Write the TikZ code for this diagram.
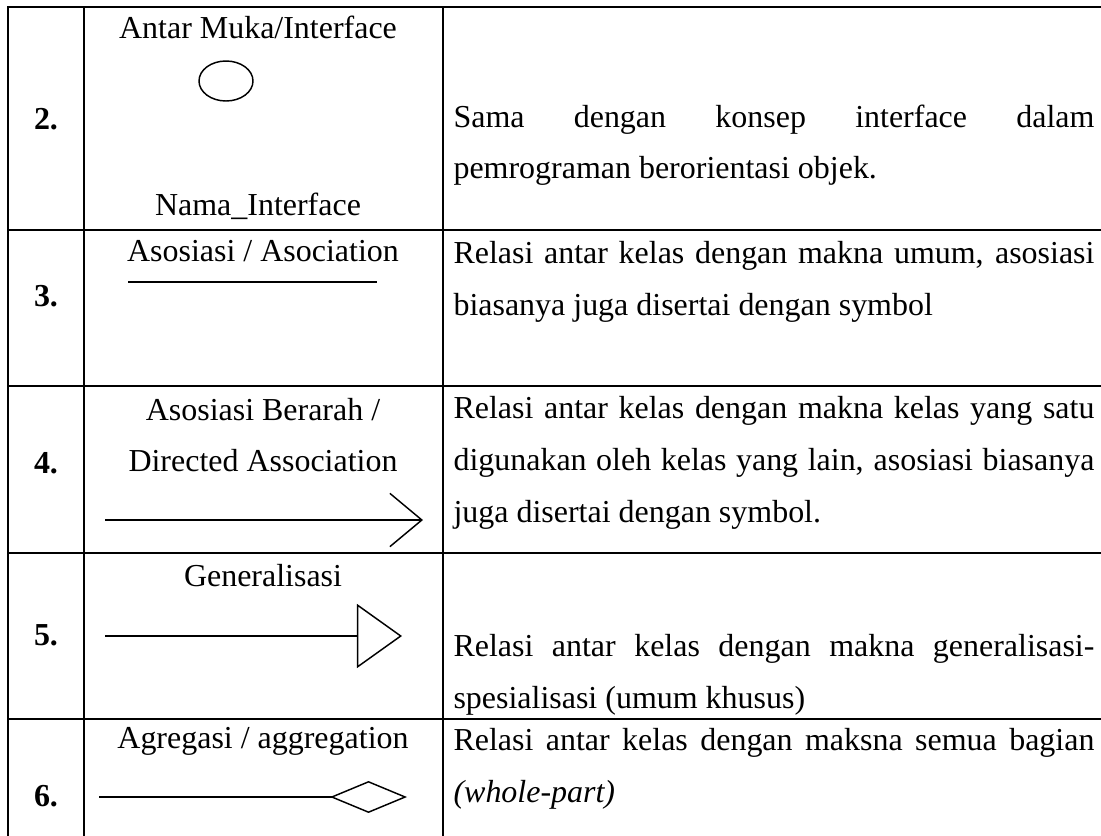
\documentclass[tikz,border=0pt]{standalone}
\usepackage{fontspec}
\setmainfont{Liberation Serif}
\usetikzlibrary{arrows.meta, positioning}

\begin{document}
\begin{tikzpicture}[x = 0.3754pt, y = -0.3754pt,
		cellText/.style = {font = \fontsize{12}{19.5}\selectfont, inner sep = 0pt, anchor = base},
		numText/.style = {font = \fontsize{12}{14}\selectfont\bfseries, inner sep = 0pt, anchor = base},
		descText/.style = {font = \fontsize{12}{19.5}\selectfont, inner sep = 0pt, anchor = north west, text width = 240.6pt, align = justify},
		gridLine/.style = {line width = 0.75pt},
		symbolLine/.style = {line width = 0.55pt}]

		% contant definitions
		\def\colMid{263}
		\def\colNum{46}
		\def\colDesc{453}

		\useasboundingbox (0, 0) rectangle (1101, 836);

		% table grid
		\begin{scope}
			\coordinate (TL) at (8, 7);
			\coordinate (TR) at (1102, 7);
			\draw[gridLine] (TR) -- (TL) -- (8, 837);
			\foreach \xcol in {84, 443} {
				\draw[gridLine] (\xcol, 7) -- (\xcol, 837);
			}
			\foreach \yrow in {230, 386, 553, 719} {
				\draw[gridLine] (8, \yrow) -- (1102, \yrow);
			}
		\end{scope}

		% row numbers
		\node[numText] (N2) at (\colNum, 129) {2.};
		\node[numText] (N3) at (\colNum, 306) {3.};
		\node[numText] (N4) at (\colNum, 473) {4.};
		\node[numText] (N5) at (\colNum, 645) {5.};
		\node[numText] (N6) at (\colNum, 806) {6.};

		% interface
		\node[cellText] (A2) at (258, 38) {Antar Muka/Interface};
		\draw[symbolLine] (226, 81) ellipse (27 and 20);
		\node[cellText] (B2) at (258, 215) {Nama\_Interface};

		% association
		\node[cellText] (A3) at (\colMid, 261) {Asosiasi / Asociation};
		\coordinate (L3a) at (128, 282);
		\coordinate (L3b) at (377, 282);
		\draw[symbolLine] (L3a) -- (L3b);

		% directed association
		\node[cellText] (A4) at (\colMid, 420) {Asosiasi Berarah /};
		\node[cellText] (B4) at (\colMid, 471) {Directed Association};
		\coordinate (L4a) at (105, 520);
		\coordinate (L4b) at (423, 520);
		\draw[symbolLine, -{Straight Barb[length = 12pt, width = 20pt]}] (L4a) -- (L4b);

		% generalisation
		\node[cellText] (A5) at (\colMid, 586) {Generalisasi};
		\coordinate (L5a) at (105, 636);
		\coordinate (L5b) at (402, 636);
		\draw[symbolLine, -{Triangle[open, length = 16.9pt, width = 24pt]}] (L5a) -- (L5b);

		% aggregation
		\node[cellText] (A6) at (\colMid, 748) {Agregasi / aggregation};
		\coordinate (L6a) at (99, 797);
		\coordinate (L6b) at (407, 797);
		\draw[symbolLine, -{Diamond[open, length = 28.9pt, width = 12pt]}] (L6a) -- (L6b);

		% descriptions
		\node[descText] (D2) at (\colDesc, 104) {Sama dengan konsep interface dalam\linebreak pemrograman berorientasi objek.};
		\node[descText] (D3) at (\colDesc, 241) {Relasi antar kelas dengan makna umum, asosiasi\linebreak biasanya juga disertai dengan symbol};
		\node[descText] (D4) at (\colDesc, 396) {Relasi antar kelas dengan makna kelas yang satu\linebreak digunakan oleh kelas yang lain, asosiasi biasanya\linebreak juga disertai dengan symbol.};
		\node[descText] (D5) at (\colDesc, 634) {Relasi antar kelas dengan makna generalisasi-\linebreak spesialisasi (umum khusus)};
		\node[descText] (D6) at (\colDesc, 728) {Relasi antar kelas dengan maksna semua bagian\linebreak \textit{(whole-part)}};

	\end{tikzpicture}
\end{document}
